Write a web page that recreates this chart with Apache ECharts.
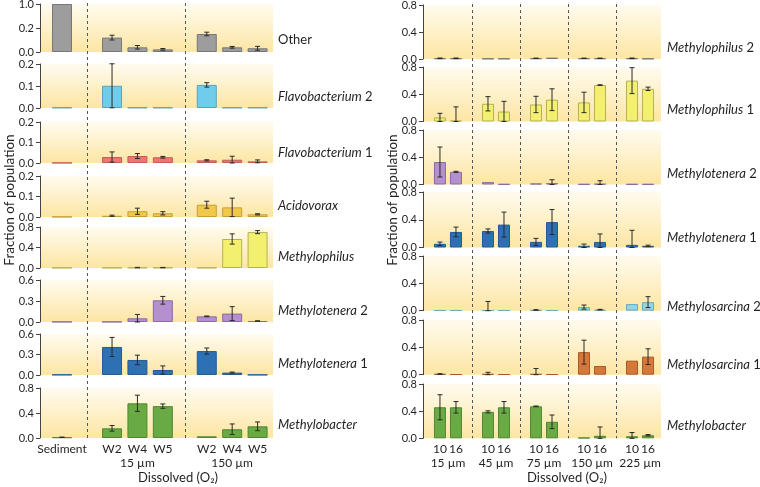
<!DOCTYPE html>
<html><head><meta charset="utf-8">
<script src="https://cdn.jsdelivr.net/npm/echarts@6/dist/echarts.min.js"></script>
<style>html,body{margin:0;padding:0;background:#fff}#c{width:760px;height:487px}</style>
</head><body><div id="c"></div>
<script>
// ---------------- DATA ----------------
const leftCategories = ['Sediment','W2','W4','W5','W2','W4','W5'];
const leftGroupIndex = [0,1,1,1,2,2,2];
const leftGroupLabels = ['', '15 µm', '150 µm'];

const rightCategories = ['10','16','10','16','10','16','10','16','10','16'];
const rightGroupIndex = [0,0,1,1,2,2,3,3,4,4];
const rightGroupLabels = ['15 µm','45 µm','75 µm','150 µm','225 µm'];

const leftTaxa = ['Other','Flavobacterium 2','Flavobacterium 1','Acidovorax','Methylophilus','Methylotenera 2','Methylotenera 1','Methylobacter'];
const leftOther        = [1.0, 0.12, 0.039, 0.022, 0.15, 0.039, 0.031];
const leftOtherErr     = [0, 0.02, 0.015, 0.007, 0.015, 0.007, 0.016];
const leftFlavo2       = [0.002, 0.101, 0.002, 0.002, 0.105, 0.002, 0.002];
const leftFlavo2Err    = [0, 0.1, 0, 0, 0.01, 0, 0];
const leftFlavo1       = [0.001, 0.029, 0.034, 0.028, 0.013, 0.016, 0.008];
const leftFlavo1Err    = [0, 0.025, 0.012, 0.004, 0.003, 0.017, 0.007];
const leftAcido        = [0.001, 0.006, 0.028, 0.018, 0.06, 0.047, 0.013];
const leftAcidoErr     = [0, 0.003, 0.015, 0.008, 0.017, 0.045, 0.003];
const leftMphilus      = [0.005, 0.005, 0.008, 0.008, 0.005, 0.566, 0.70];
const leftMphilusErr   = [0, 0, 0.004, 0.004, 0, 0.1, 0.03];
const leftMtenera2     = [0.003, 0.003, 0.053, 0.31, 0.081, 0.12, 0.014];
const leftMtenera2Err  = [0, 0, 0.055, 0.055, 0.005, 0.1, 0.003];
const leftMtenera1     = [0.005, 0.41, 0.22, 0.073, 0.35, 0.035, 0.004];
const leftMtenera1Err  = [0, 0.14, 0.07, 0.06, 0.045, 0.008, 0];
const leftMbacter      = [0.012, 0.155, 0.555, 0.51, 0.027, 0.14, 0.187];
const leftMbacterErr   = [0.003, 0.045, 0.13, 0.035, 0, 0.085, 0.07];
const leftTickMax  = [1.0, 0.2, 0.2, 0.2, 0.8, 0.6, 0.6, 0.8];
const leftTickStep = [0.2, 0.1, 0.1, 0.1, 0.4, 0.3, 0.3, 0.4];

const rightTaxa = ['Methylophilus 2','Methylophilus 1','Methylotenera 2','Methylotenera 1','Methylosarcina 2','Methylosarcina 1','Methylobacter'];
const rightMphilus2     = [0.01, 0.01, 0.005, 0.005, 0.01, 0.02, 0.01, 0.01, 0.01, 0.005];
const rightMphilus2Err  = [0.005, 0.005, 0, 0, 0.003, 0, 0.003, 0.003, 0.005, 0];
const rightMphilus1     = [0.06, 0.015, 0.26, 0.146, 0.25, 0.32, 0.28, 0.535, 0.60, 0.48];
const rightMphilus1Err  = [0.06, 0.2, 0.105, 0.15, 0.12, 0.16, 0.15, 0.005, 0.19, 0.025];
const rightMtenera2     = [0.33, 0.186, 0.035, 0.005, 0.015, 0.02, 0.005, 0.01, 0.005, 0.005];
const rightMtenera2Err  = [0.22, 0.008, 0, 0, 0, 0.05, 0, 0.045, 0, 0];
const rightMtenera1     = [0.053, 0.224, 0.238, 0.33, 0.081, 0.367, 0.024, 0.08, 0.038, 0.024];
const rightMtenera1Err  = [0.025, 0.07, 0.03, 0.18, 0.05, 0.18, 0.025, 0.115, 0.21, 0.01];
const rightMsarcina2    = [0.005, 0.005, 0.005, 0.005, 0.01, 0.005, 0.053, 0.015, 0.097, 0.125];
const rightMsarcina2Err = [0, 0, 0.13, 0, 0.005, 0, 0.03, 0.005, 0, 0.08];
const rightMsarcina1    = [0.01, 0.005, 0.01, 0.005, 0.01, 0.005, 0.33, 0.127, 0.205, 0.264];
const rightMsarcina1Err = [0.005, 0, 0.025, 0, 0.08, 0, 0.175, 0, 0, 0.115];
const rightMbacter      = [0.457, 0.457, 0.39, 0.457, 0.471, 0.243, 0.01, 0.037, 0.03, 0.045];
const rightMbacterErr   = [0.185, 0.085, 0.015, 0.085, 0.005, 0.1, 0, 0.13, 0.055, 0.01];
const rightTickMax = 0.8, rightTickStep = 0.4;

const axisTitle = 'Fraction of population';
const xTitle = 'Dissolved (O₂)';

// ---------------- STYLE / LAYOUT ----------------
const FONT = 'Lato, "Open Sans", sans-serif';
const TXT = '#231f20';
const C = {
  gray:   ['#9d9d9d', '#777777'],
  sky:    ['#6fcdec', '#5aa3b8'],
  salmon: ['#f07470', '#c45c58'],
  gold:   ['#f2c84b', '#c49f3a'],
  yellow: ['#f2f06e', '#b3b159'],
  purple: ['#b590cf', '#8a6aa3'],
  blue:   ['#2d70b4', '#245b92'],
  green:  ['#69aa44', '#4f8733'],
  cyan:   ['#92d6e6', '#69a9b8'],
  orange: ['#d8773a', '#a95a2a']
};
const leftRows = [
  [leftOther, leftOtherErr, C.gray], [leftFlavo2, leftFlavo2Err, C.sky], [leftFlavo1, leftFlavo1Err, C.salmon],
  [leftAcido, leftAcidoErr, C.gold], [leftMphilus, leftMphilusErr, C.yellow], [leftMtenera2, leftMtenera2Err, C.purple],
  [leftMtenera1, leftMtenera1Err, C.blue], [leftMbacter, leftMbacterErr, C.green]
];
const rightRows = [
  [rightMphilus2, rightMphilus2Err, C.gray], [rightMphilus1, rightMphilus1Err, C.yellow], [rightMtenera2, rightMtenera2Err, C.purple],
  [rightMtenera1, rightMtenera1Err, C.blue], [rightMsarcina2, rightMsarcina2Err, C.cyan], [rightMsarcina1, rightMsarcina1Err, C.orange],
  [rightMbacter, rightMbacterErr, C.green]
];
const LL = { left: 40, width: 233, rows: [[4,52],[64,108],[122,163],[176,217],[227,268],[280,322],[334,375],[388,438]],
  xmin: -0.866, xmax: 8.307, barW: 20, cap: 2.5, gaps: [0, 0.97, 0.73], labelX: 278, labelDy: [-12,-11,-10,-11,-11,-11,-11,-13] };
const RL = { left: 423, width: 238, rows: [[5,59],[67,121.5],[130,184.5],[192,247.5],[256,310.7],[320,374.7],[384,438.3]],
  xmin: -1.06, xmax: 13.81, barW: 12, cap: 2.5, gaps: [0, 1, 1, 1, 1], labelX: 667, labelDy: [-11,-12,-11,-10,-4,-10,-12] };

function positions(groupIndex, gaps) {
  const out = []; let p = 0;
  groupIndex.forEach((g, i) => {
    if (i > 0) { p += 1; if (g !== groupIndex[i-1]) p += gaps[g]; }
    out.push(p);
  });
  return out;
}
const leftPos = positions(leftGroupIndex, LL.gaps);
const rightPos = positions(rightGroupIndex, RL.gaps);
function groupCenters(pos, gi) {
  const n = Math.max(...gi) + 1, c = [];
  for (let g = 0; g < n; g++) { const ps = pos.filter((_, i) => gi[i] === g); c.push((ps[0] + ps[ps.length-1]) / 2); }
  return c;
}
function groupDividers(pos, gi) {
  const d = [];
  for (let i = 1; i < pos.length; i++) if (gi[i] !== gi[i-1]) d.push((pos[i-1] + pos[i]) / 2);
  return d;
}
// broken axis for "Other" (0-0.2 linear, 0.2-1.0 compressed)
const BRK = 0.2, COMP = 0.25;
const fwd = v => v <= BRK ? v : BRK + (v - BRK) * COMP;
const inv = v => v <= BRK + 1e-9 ? v : BRK + (v - BRK) / COMP;

const band = { type: 'linear', x: 0, y: 0, x2: 0, y2: 1,
  colorStops: [{ offset: 0, color: '#fffbef' }, { offset: 1, color: '#fde6a3' }] };

const grids = [], xAxes = [], yAxes = [], series = [];
const labelInfo = [];

function addPanel(L, pos, cats, gi, groupLabels, rowIdx, nRows, vals, errs, col, ymax, ystep, brk, taxon) {
  const [top, bottom] = L.rows[rowIdx];
  const gIdx = grids.length;
  grids.push({ left: L.left, top: top, width: L.width, height: bottom - top, show: true,
    backgroundColor: band, borderWidth: 0, containLabel: false, outerBoundsMode: 'none' });
  const isLast = rowIdx === nRows - 1;
  const xIdx = xAxes.length;
  const labMap = {};
  pos.forEach((p, i) => labMap[p.toFixed(4)] = cats[i]);
  xAxes.push({ gridIndex: gIdx, type: 'value', min: L.xmin, max: L.xmax, position: 'bottom',
    axisLine: { show: false, onZero: false }, axisTick: { show: false }, splitLine: { show: false },
    axisLabel: isLast ? { show: true, customValues: pos, formatter: v => labMap[Number(v).toFixed(4)] || '',
      fontFamily: FONT, fontSize: 12, color: TXT, margin: 5, showMinLabel: true, showMaxLabel: true } : { show: false } });
  if (isLast) {
    const gc = groupCenters(pos, gi);
    const gMap = {}; gc.forEach((p, i) => gMap[p.toFixed(4)] = groupLabels[i]);
    xAxes.push({ gridIndex: gIdx, type: 'value', min: L.xmin, max: L.xmax, position: 'bottom', offset: 14,
      axisLine: { show: false, onZero: false }, axisTick: { show: false }, splitLine: { show: false },
      axisLabel: { show: true, customValues: gc, formatter: v => gMap[Number(v).toFixed(4)] || '',
        fontFamily: FONT, fontSize: 12, color: TXT, margin: 5, showMinLabel: true, showMaxLabel: true } });
  }
  const yIdx = yAxes.length;
  const dmax = brk ? fwd(ymax) : ymax;
  yAxes.push({ gridIndex: gIdx, type: 'value', min: 0, max: dmax, interval: brk ? BRK : ystep, position: 'left',
    axisLine: { show: true, onZero: false, lineStyle: { color: '#444', width: 1 } },
    axisTick: { show: true, inside: false, length: 4, lineStyle: { color: '#444', width: 1 } },
    splitLine: { show: false },
    axisLabel: { fontFamily: FONT, fontSize: 11, color: TXT, margin: 6, showMinLabel: true, showMaxLabel: true,
      formatter: v => (brk ? inv(v) : v).toFixed(1) } });
  const tf = brk ? fwd : (v => v);
  series.push({ type: 'bar', xAxisIndex: xIdx, yAxisIndex: yIdx, barWidth: L.barW, silent: true, animation: false,
    data: pos.map((p, i) => [p, tf(vals[i])]),
    itemStyle: { color: col[0], borderColor: col[1], borderWidth: 1 } });
  const edata = [];
  pos.forEach((p, i) => { if (errs[i] > 0) edata.push([p, tf(Math.max(0, vals[i] - errs[i])), tf(vals[i] + errs[i])]); });
  series.push({ type: 'custom', xAxisIndex: xIdx, yAxisIndex: yIdx, silent: true, animation: false, data: edata, z: 5,
    encode: { x: 0, y: [1, 2] },
    renderItem: (params, api) => {
      const a = api.coord([api.value(0), api.value(1)]), b = api.coord([api.value(0), api.value(2)]);
      const w = L.cap, st = { stroke: '#2a2a2a', lineWidth: 1 };
      return { type: 'group', children: [
        { type: 'line', shape: { x1: a[0], y1: a[1], x2: b[0], y2: b[1] }, style: st },
        { type: 'line', shape: { x1: a[0]-w, y1: a[1], x2: a[0]+w, y2: a[1] }, style: st },
        { type: 'line', shape: { x1: b[0]-w, y1: b[1], x2: b[0]+w, y2: b[1] }, style: st } ] };
    } });
  labelInfo.push({ taxon, x: L.labelX, y: bottom + L.labelDy[rowIdx] });
  return xIdx;
}

let leftFirstX, rightFirstX;
leftRows.forEach((r, k) => {
  const xi = addPanel(LL, leftPos, leftCategories, leftGroupIndex, leftGroupLabels, k, leftRows.length,
    r[0], r[1], r[2], leftTickMax[k], leftTickStep[k], k === 0, leftTaxa[k]);
  if (k === 0) leftFirstX = xi;
});
rightRows.forEach((r, k) => {
  const xi = addPanel(RL, rightPos, rightCategories, rightGroupIndex, rightGroupLabels, k, rightRows.length,
    r[0], r[1], r[2], rightTickMax, rightTickStep, false, rightTaxa[k]);
  if (k === 0) rightFirstX = xi;
});

const chart = echarts.init(document.getElementById('c'), null, { renderer: 'canvas' });
chart.setOption({ animation: false, backgroundColor: '#fff', grid: grids, xAxis: xAxes, yAxis: yAxes, series: series });

// ---------- decorations computed through the axes ----------
const gfx = [];
function dividers(L, pos, gi, xIdx) {
  const y1 = L.rows[0][0] - 1, y2 = L.rows[L.rows.length-1][1];
  groupDividers(pos, gi).forEach(d => {
    const x = Math.round(chart.convertToPixel({ xAxisIndex: xIdx }, d)) + 0.5;
    gfx.push({ type: 'line', silent: true, z: 10, shape: { x1: x, y1: y1, x2: x, y2: y2 },
      style: { stroke: '#555', lineWidth: 1, lineDash: [3, 3] } });
  });
}
dividers(LL, leftPos, leftGroupIndex, leftFirstX);
dividers(RL, rightPos, rightGroupIndex, rightFirstX);

function richName(name) {
  if (name === 'Other') return '{n|Other}';
  const m = name.match(/^(.*?)( \d+)?$/);
  return '{i|' + m[1] + '}' + (m[2] ? '{n|' + m[2] + '}' : '');
}
const LBL = 13;
labelInfo.forEach(l => {
  gfx.push({ type: 'text', silent: true, z: 10, x: l.x, y: l.y,
    style: { text: richName(l.taxon), fontFamily: FONT, fontSize: LBL, fill: TXT, align: 'left', verticalAlign: 'middle',
      rich: { i: { fontStyle: 'italic', fontFamily: FONT, fontSize: LBL, fill: TXT }, n: { fontFamily: FONT, fontSize: LBL, fill: TXT } } } });
});
[[10, 200], [393, 200]].forEach(p => {
  gfx.push({ type: 'text', silent: true, x: p[0], y: p[1], rotation: Math.PI / 2,
    style: { text: axisTitle, fontFamily: FONT, fontSize: 13.5, fill: TXT, align: 'center', verticalAlign: 'middle' } });
});
[[178, 478], [567, 478]].forEach(p => {
  gfx.push({ type: 'text', silent: true, x: p[0], y: p[1],
    style: { text: xTitle, fontFamily: FONT, fontSize: 13, fill: TXT, align: 'center', verticalAlign: 'middle' } });
});
chart.setOption({ graphic: gfx });
</script></body></html>
